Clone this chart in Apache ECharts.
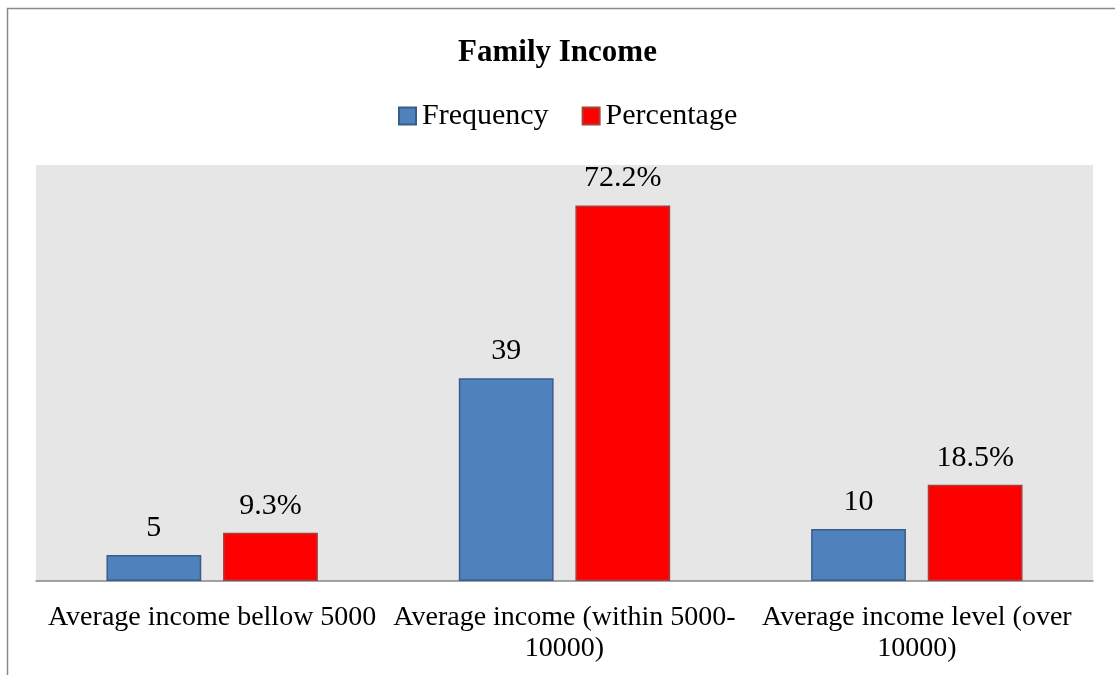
<!DOCTYPE html>
<html>
<head>
<meta charset="utf-8">
<title>Family Income</title>
<script src="https://cdn.jsdelivr.net/npm/echarts@6/dist/echarts.min.js"></script>
<style>
  html, body { margin: 0; padding: 0; background: #ffffff; }
  #chart { width: 1115px; height: 675px; }
</style>
</head>
<body>
<div id="chart"></div>
<script>
// Income groups (line breaks as they wrap under the axis)
const categories = [
  'Average income bellow 5000',
  'Average income (within 5000-\n10000)',
  'Average income level (over\n10000)'
];
const frequency = [5, 39, 10];
const percentage = [9.3, 72.2, 18.5];

const serif = "'Liberation Serif', 'Times New Roman', serif";

const chart = echarts.init(document.getElementById('chart'), null, { renderer: 'canvas' });

chart.setOption({
  backgroundColor: '#ffffff',
  animation: false,
  title: {
    text: 'Family Income',
    left: 'center',
    top: 32,
    textStyle: { fontFamily: serif, fontSize: 31, fontWeight: 'bold', color: '#000000' }
  },
  legend: {
    left: 393,
    top: 96,
    icon: 'rect',
    itemWidth: 17,
    itemHeight: 17,
    itemGap: 33,
    textStyle: { fontFamily: serif, fontSize: 30, color: '#000000', padding: [0, 0, 0, 1] },
    data: ['Frequency', 'Percentage']
  },
  graphic: [{
    type: 'rect',
    silent: true,
    z: 100,
    shape: { x: 7.5, y: 8.5, width: 1300, height: 900 },
    style: { fill: 'none', stroke: '#8a8a8a', lineWidth: 1.5 }
  }],
  grid: {
    left: 36,
    right: 22,
    top: 165,
    bottom: 94,
    show: true,
    backgroundColor: '#e6e6e6',
    borderWidth: 0
  },
  xAxis: {
    type: 'category',
    data: categories,
    axisTick: { show: false },
    axisLine: { lineStyle: { color: '#868686', width: 1.5 } },
    axisLabel: {
      interval: 0,
      margin: 21,
      fontFamily: serif,
      fontSize: 28,
      lineHeight: 31,
      color: '#000000',
      align: 'center'
    }
  },
  yAxis: {
    type: 'value',
    min: 0,
    max: 80,
    show: false,
    splitLine: { show: false }
  },
  series: [
    {
      name: 'Frequency',
      type: 'bar',
      data: frequency,
      barGap: '23%',
      barCategoryGap: '40%',
      itemStyle: { color: '#4f81bd', borderColor: '#385d8a', borderWidth: 1.5 },
      label: {
        show: true,
        position: 'top',
        distance: 12,
        fontFamily: serif,
        fontSize: 30,
        color: '#000000'
      }
    },
    {
      name: 'Percentage',
      type: 'bar',
      data: percentage,
      itemStyle: { color: '#ff0000', borderColor: '#a5403d', borderWidth: 1.5 },
      label: {
        show: true,
        position: 'top',
        distance: 12,
        fontFamily: serif,
        fontSize: 30,
        color: '#000000',
        formatter: '{c}%'
      }
    }
  ]
});
</script>
</body>
</html>
